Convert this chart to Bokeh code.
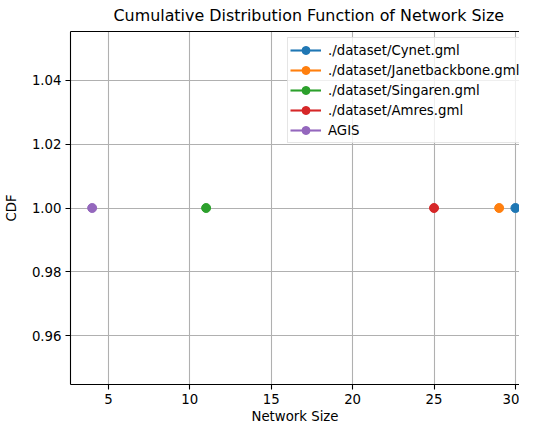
from bokeh.plotting import figure
from bokeh.models import Range1d, LinearAxis, FixedTicker, PrintfTickFormatter, Legend, LegendItem
from bokeh.embed import file_html
from bokeh.resources import INLINE

# ---- data ----
series_labels = ["./dataset/Cynet.gml", "./dataset/Janetbackbone.gml",
                 "./dataset/Singaren.gml", "./dataset/Amres.gml", "AGIS"]
network_sizes = [30, 29, 11, 25, 4]
cdf_values = [1.0, 1.0, 1.0, 1.0, 1.0]
colors = ["#1f77b4", "#ff7f0e", "#2ca02c", "#d62728", "#9467bd"]
x_ticks = [5, 10, 15, 20, 25, 30]
y_ticks = [0.96, 0.98, 1.00, 1.02, 1.04]

FONT = "DejaVu Sans"
FRAME_W, FRAME_H = 449, 353

p = figure(frame_width=FRAME_W, frame_height=FRAME_H, output_backend="svg", toolbar_location=None,
           x_range=Range1d(2.67, 30.25), y_range=Range1d(0.9448, 1.0552),
           min_border_left=0, min_border_right=0, min_border_top=0, min_border_bottom=0,
           title="Cumulative Distribution Function of Network Size")
p.outline_line_color = None
p.background_fill_color = "white"
p.border_fill_color = "white"

p.title.text_font = FONT
p.title.text_font_size = "15.9px"
p.title.text_font_style = "normal"
p.title.text_color = "black"
p.title.align = "left"
p.title.offset = 43
p.title.standoff = 6
p.title.text_line_height = 1.0

for ax in (p.xaxis[0], p.yaxis[0]):
    ax.axis_line_color = "black"
    ax.axis_line_width = 1.1
    ax.major_tick_line_color = "black"
    ax.major_tick_line_width = 1.1
    ax.major_tick_out = 5
    ax.major_tick_in = 0
    ax.minor_tick_line_color = None
    ax.major_label_text_font = FONT
    ax.major_label_text_font_size = "13.3px"
    ax.major_label_text_color = "black"
    ax.major_label_text_line_height = 1.0
    ax.axis_label_text_font = FONT
    ax.axis_label_text_font_size = "13.3px"
    ax.axis_label_text_font_style = "normal"
    ax.axis_label_text_color = "black"
    ax.axis_label_text_line_height = 1.0

p.xaxis.ticker = FixedTicker(ticks=x_ticks)
p.yaxis.ticker = FixedTicker(ticks=y_ticks)
p.yaxis.formatter = PrintfTickFormatter(format="%.2f")
p.xaxis.axis_label = "Network Size"
p.yaxis.axis_label = "CDF"
p.xaxis.major_label_standoff = 4
p.xaxis.axis_label_standoff = 2
p.yaxis.major_label_standoff = 4
p.yaxis.axis_label_standoff = 10

top_axis = LinearAxis(major_tick_line_color=None, minor_tick_line_color=None,
                      major_label_text_font_size="0px", major_label_text_color=None,
                      axis_line_color="black", axis_line_width=1.1,
                      major_tick_out=0, major_tick_in=0, major_label_standoff=0)
p.add_layout(top_axis, "above")

p.grid.grid_line_color = "#b0b0b0"
p.grid.grid_line_width = 1.1

items = []
for lab, xv, yv, c in zip(series_labels, network_sizes, cdf_values, colors):
    r1 = p.line([xv], [yv], line_color=c, line_width=2.1)
    r2 = p.scatter([xv], [yv], size=9, fill_color=c, line_color=c, marker="circle")
    items.append(LegendItem(label=lab, renderers=[r1, r2]))

legend = Legend(items=items, location=(217, FRAME_H - 112))
legend.label_text_font = FONT
legend.label_text_font_size = "13.3px"
legend.label_text_color = "black"
legend.glyph_width = 31
legend.glyph_height = 20
legend.label_height = 20
legend.label_standoff = 7
legend.spacing = 0
legend.padding = 2
legend.margin = 0
legend.border_line_color = "#cccccc"
legend.border_line_width = 1
legend.background_fill_alpha = 0.8
legend.background_fill_color = "white"
p.add_layout(legend, "center")

open("out.html", "w").write(file_html(p, INLINE))
